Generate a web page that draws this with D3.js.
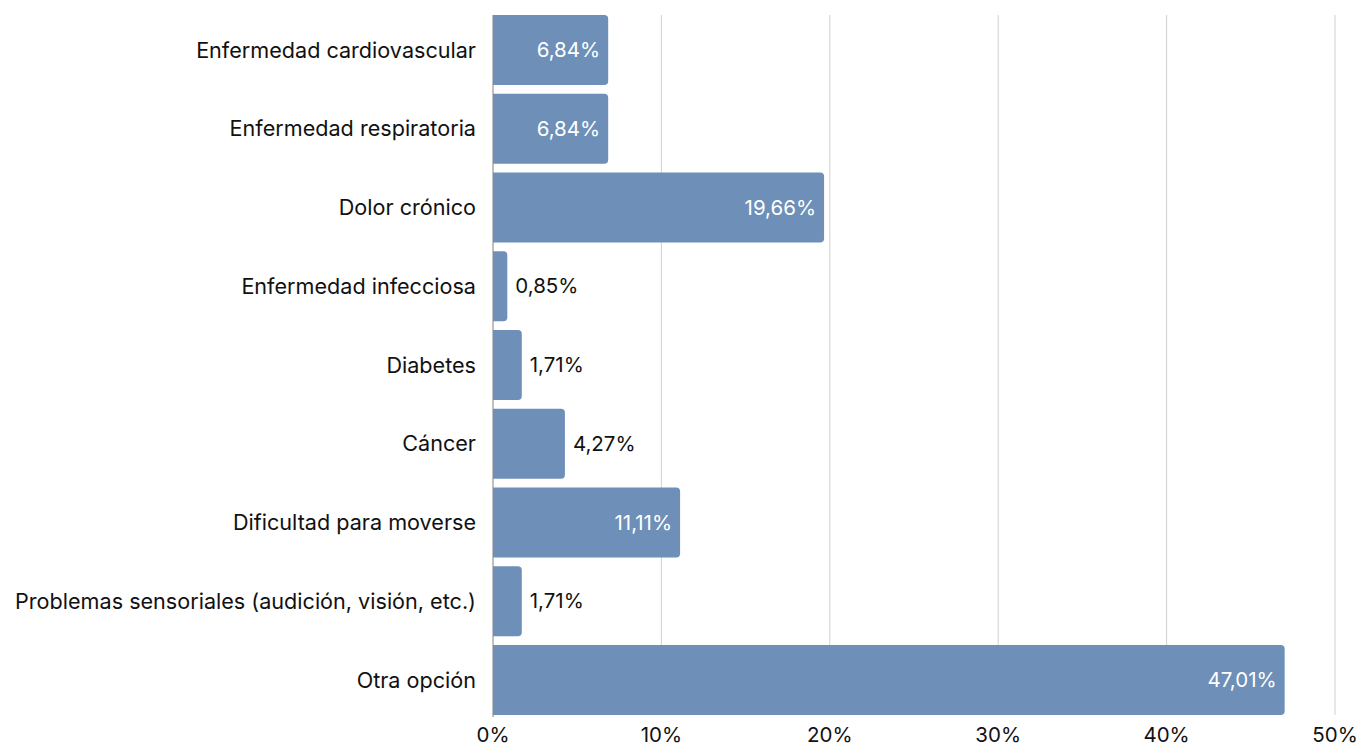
<!DOCTYPE html>
<html>
<head>
<meta charset="UTF-8">
<title>Condiciones de salud</title>
<script src="https://cdn.jsdelivr.net/npm/d3@7"></script>
<style>
  body { margin: 0; background: #fff; }
  text { font-family: "Inter", "Roboto", sans-serif; }
</style>
</head>
<body>
<svg id="chart" width="1360" height="745"></svg>
<script>
// data
var categories = [
  "Enfermedad cardiovascular",
  "Enfermedad respiratoria",
  "Dolor crónico",
  "Enfermedad infecciosa",
  "Diabetes",
  "Cáncer",
  "Dificultad para moverse",
  "Problemas sensoriales (audición, visión, etc.)",
  "Otra opción"
];
var values = [6.84, 6.84, 19.66, 0.85, 1.71, 4.27, 11.11, 1.71, 47.01];
var tickValues = [0, 10, 20, 30, 40, 50];

var svg = d3.select("#chart");
// note: "top" is taken by window.top, so plot edges get their own names
var plotLeft = 493, plotRight = 1335, plotTop = 10.6, plotBottom = 719.4;

var x = d3.scaleLinear().domain([0, 50]).range([plotLeft, plotRight]);
var y = d3.scaleBand().domain(categories).range([plotTop, plotBottom])
  .paddingInner(0.111).paddingOuter(0.0556);

var barTop = y(categories[0]);
var barBottom = y(categories[categories.length - 1]) + y.bandwidth();

var fmt = function (v) { return v.toFixed(2).replace(".", ",") + "%"; };

// gridlines
svg.append("g").selectAll("line")
  .data(tickValues.slice(1))
  .enter().append("line")
  .attr("x1", function (d) { return x(d); })
  .attr("x2", function (d) { return x(d); })
  .attr("y1", barTop)
  .attr("y2", barBottom)
  .attr("stroke", "#d0d0d0")
  .attr("stroke-width", 1);

// zero axis
svg.append("line")
  .attr("x1", x(0)).attr("x2", x(0))
  .attr("y1", barTop).attr("y2", barBottom + 2)
  .attr("stroke", "#808080").attr("stroke-width", 1);

// bars: square left side, rounded right corners
var r = 4;
svg.append("g").selectAll("path")
  .data(values)
  .enter().append("path")
  .attr("fill", "#6d8fb8")
  .attr("d", function (d, i) {
    var x0 = x(0), x1 = x(d), y0 = y(categories[i]), h = y.bandwidth();
    var rr = Math.min(r, (x1 - x0) / 2);
    return "M" + x0 + "," + y0 +
      "H" + (x1 - rr) +
      "Q" + x1 + "," + y0 + " " + x1 + "," + (y0 + rr) +
      "V" + (y0 + h - rr) +
      "Q" + x1 + "," + (y0 + h) + " " + (x1 - rr) + "," + (y0 + h) +
      "H" + x0 + "Z";
  });

// value labels
svg.append("g").selectAll("text")
  .data(values)
  .enter().append("text")
  .attr("x", function (d) { return d > 5 ? x(d) - 8 : x(d) + 8; })
  .attr("y", function (d, i) { return y(categories[i]) + y.bandwidth() / 2; })
  .attr("dy", "0.35em")
  .attr("text-anchor", function (d) { return d > 5 ? "end" : "start"; })
  .attr("fill", function (d) { return d > 5 ? "#fff" : "#111"; })
  .style("font-size", "20.5px")
  .text(fmt);

// category labels
svg.append("g").selectAll("text")
  .data(categories)
  .enter().append("text")
  .attr("x", plotLeft - 17)
  .attr("y", function (d) { return y(d) + y.bandwidth() / 2; })
  .attr("dy", "0.35em")
  .attr("text-anchor", "end")
  .attr("fill", "#111")
  .style("font-size", "21.6px")
  .text(function (d) { return d; });

// x tick labels
svg.append("g").selectAll("text")
  .data(tickValues)
  .enter().append("text")
  .attr("x", function (d) { return x(d); })
  .attr("y", 742)
  .attr("text-anchor", "middle")
  .attr("fill", "#111")
  .style("font-size", "20.5px")
  .text(function (d) { return d + "%"; });
</script>
</body>
</html>
